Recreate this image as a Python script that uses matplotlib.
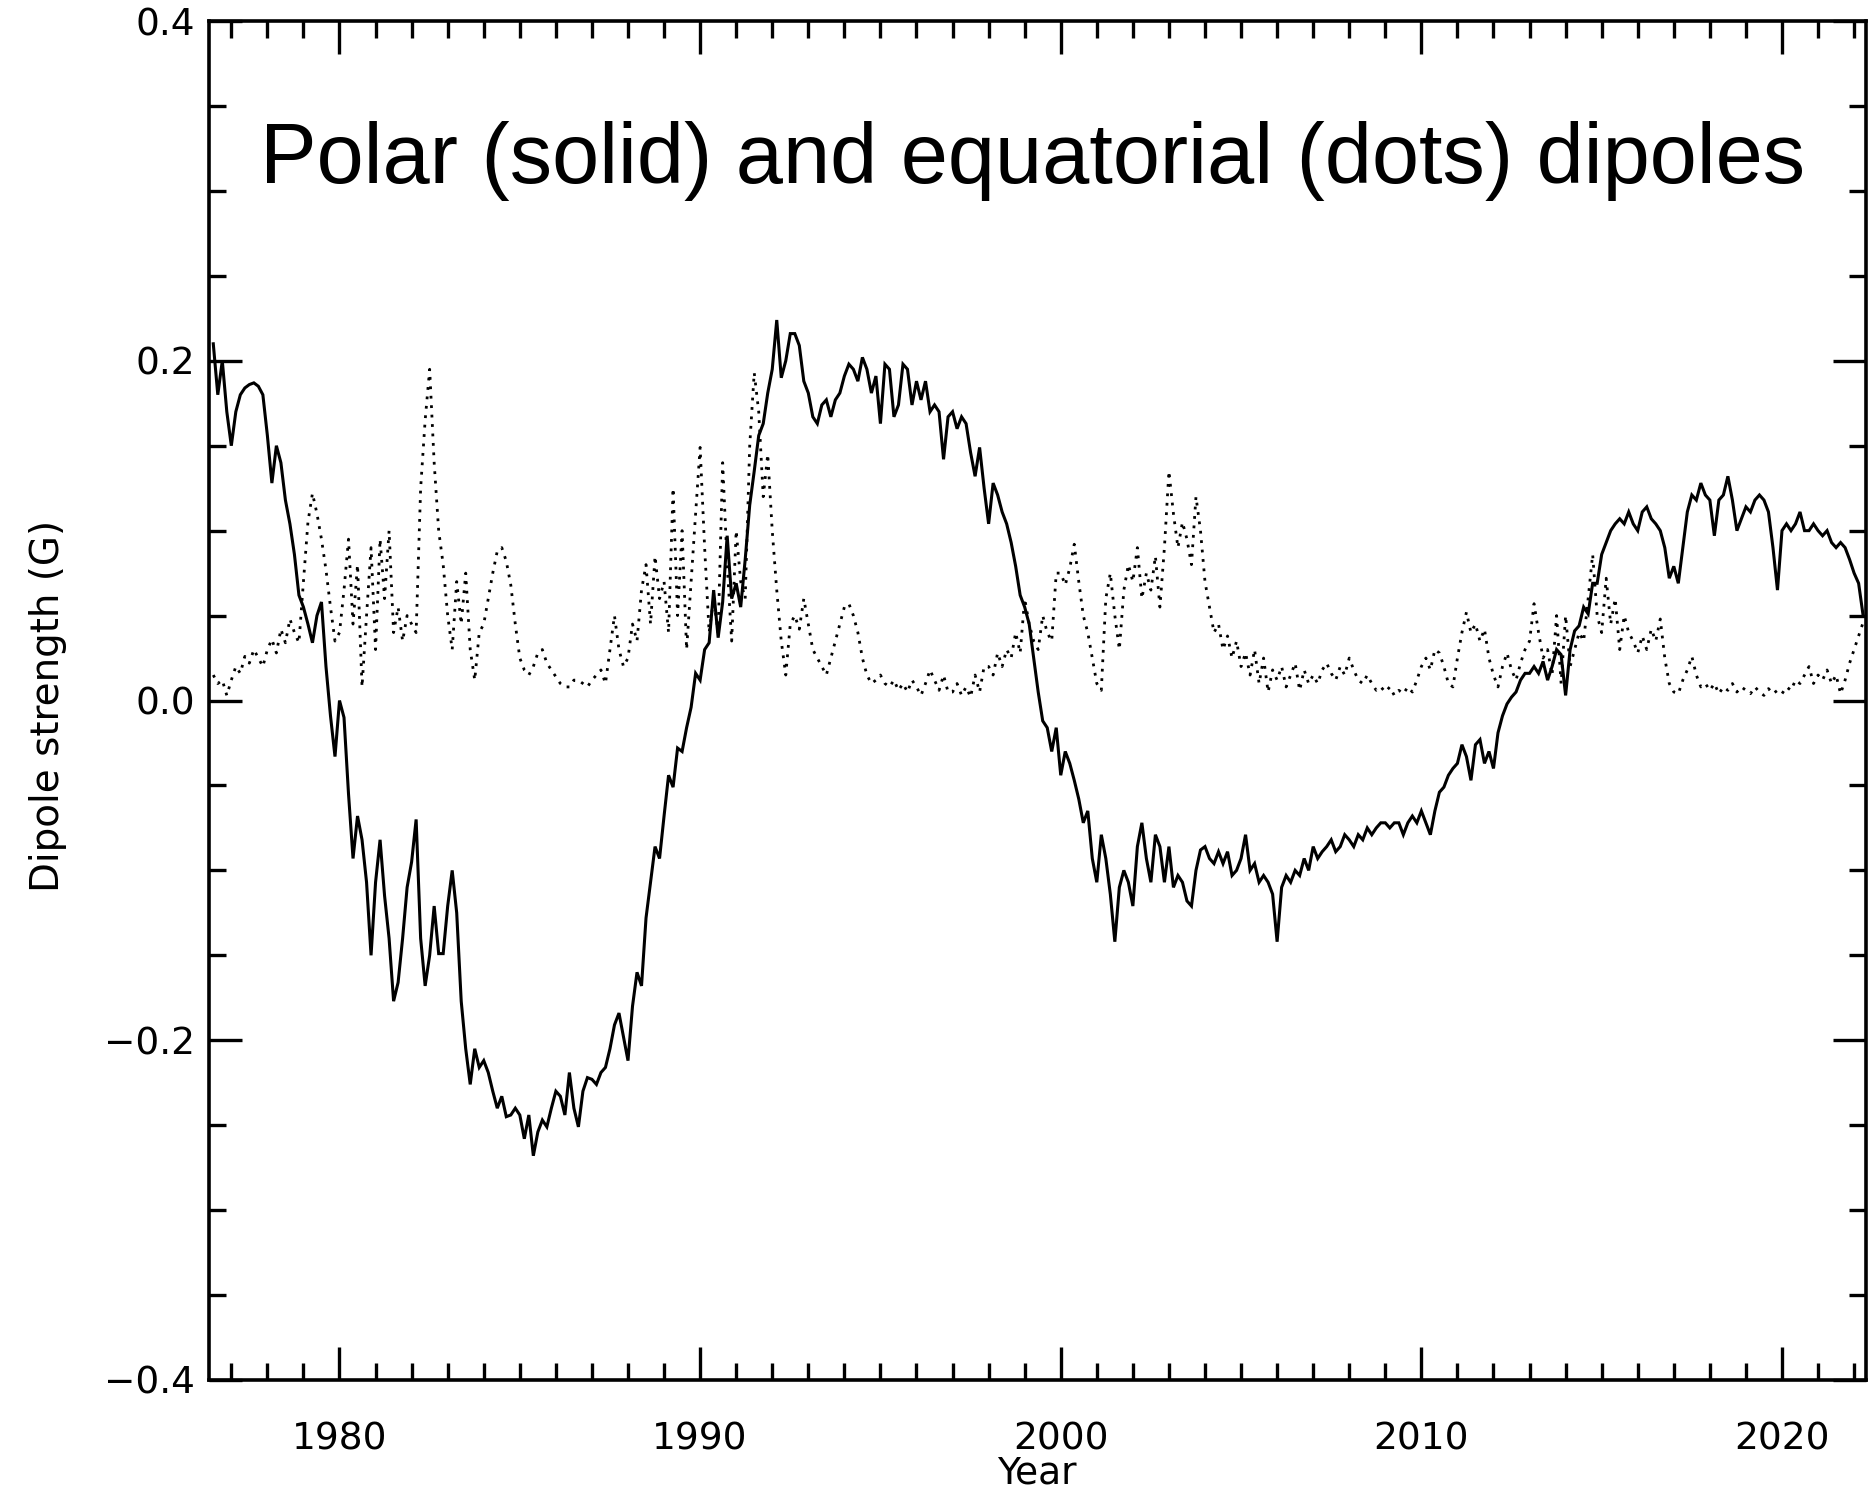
import numpy as np
import matplotlib
matplotlib.use("Agg")
import matplotlib.pyplot as plt
from matplotlib.ticker import MultipleLocator

# sampling of the series: every 1/8 year, starting mid 1976
start_year = 1976.5
step = 1.0 / 8

# polar dipole (G), one line per year
polar = [
    0.210, 0.180, 0.200, 0.170,                                   # 1976.5
    0.150, 0.170, 0.180, 0.184, 0.186, 0.187, 0.185, 0.180,       # 1977
    0.156, 0.128, 0.150, 0.140, 0.118, 0.104, 0.086, 0.062,       # 1978
    0.055, 0.045, 0.034, 0.050, 0.058, 0.020, -0.009, -0.033,     # 1979
    0.000, -0.010, -0.055, -0.093, -0.068, -0.082, -0.107, -0.150,  # 1980
    -0.107, -0.082, -0.115, -0.140, -0.177, -0.166, -0.140, -0.110,  # 1981
    -0.095, -0.070, -0.140, -0.168, -0.150, -0.121, -0.149, -0.149,  # 1982
    -0.121, -0.100, -0.125, -0.177, -0.205, -0.226, -0.205, -0.216,  # 1983
    -0.212, -0.219, -0.230, -0.240, -0.233, -0.245, -0.244, -0.240,  # 1984
    -0.244, -0.258, -0.244, -0.268, -0.254, -0.247, -0.251, -0.240,  # 1985
    -0.230, -0.233, -0.244, -0.219, -0.240, -0.251, -0.230, -0.222,  # 1986
    -0.223, -0.226, -0.219, -0.216, -0.205, -0.191, -0.184, -0.198,  # 1987
    -0.212, -0.180, -0.160, -0.168, -0.128, -0.107, -0.086, -0.093,  # 1988
    -0.068, -0.044, -0.051, -0.028, -0.030, -0.016, -0.004, 0.016,   # 1989
    0.012, 0.030, 0.034, 0.065, 0.037, 0.058, 0.097, 0.060,       # 1990
    0.069, 0.055, 0.083, 0.115, 0.135, 0.156, 0.163, 0.181,       # 1991
    0.195, 0.224, 0.190, 0.200, 0.216, 0.216, 0.209, 0.188,       # 1992
    0.181, 0.167, 0.163, 0.174, 0.177, 0.167, 0.177, 0.181,       # 1993
    0.191, 0.198, 0.195, 0.188, 0.202, 0.195, 0.181, 0.191,       # 1994
    0.163, 0.198, 0.195, 0.167, 0.174, 0.198, 0.195, 0.174,       # 1995
    0.188, 0.177, 0.188, 0.170, 0.174, 0.170, 0.142, 0.167,       # 1996
    0.170, 0.160, 0.167, 0.163, 0.146, 0.132, 0.149, 0.125,       # 1997
    0.104, 0.128, 0.121, 0.111, 0.104, 0.093, 0.079, 0.062,       # 1998
    0.055, 0.045, 0.025, 0.005, -0.012, -0.016, -0.030, -0.016,   # 1999
    -0.044, -0.030, -0.037, -0.047, -0.058, -0.072, -0.065, -0.093,  # 2000
    -0.107, -0.079, -0.093, -0.114, -0.142, -0.110, -0.100, -0.107,  # 2001
    -0.121, -0.086, -0.072, -0.093, -0.107, -0.079, -0.086, -0.107,  # 2002
    -0.086, -0.110, -0.103, -0.107, -0.118, -0.121, -0.100, -0.088,  # 2003
    -0.086, -0.093, -0.096, -0.089, -0.096, -0.089, -0.103, -0.100,  # 2004
    -0.093, -0.079, -0.100, -0.096, -0.107, -0.103, -0.107, -0.114,  # 2005
    -0.142, -0.110, -0.103, -0.107, -0.100, -0.103, -0.093, -0.100,  # 2006
    -0.086, -0.093, -0.089, -0.086, -0.082, -0.089, -0.086, -0.079,  # 2007
    -0.082, -0.086, -0.079, -0.082, -0.075, -0.079, -0.075, -0.072,  # 2008
    -0.072, -0.075, -0.072, -0.072, -0.079, -0.072, -0.068, -0.072,  # 2009
    -0.065, -0.072, -0.079, -0.065, -0.054, -0.051, -0.044, -0.040,  # 2010
    -0.037, -0.026, -0.033, -0.047, -0.026, -0.023, -0.037, -0.030,  # 2011
    -0.040, -0.019, -0.009, -0.002, 0.002, 0.005, 0.012, 0.016,   # 2012
    0.016, 0.020, 0.016, 0.023, 0.012, 0.020, 0.030, 0.027,       # 2013
    0.003, 0.030, 0.041, 0.044, 0.055, 0.051, 0.069, 0.069,       # 2014
    0.086, 0.093, 0.100, 0.104, 0.107, 0.104, 0.111, 0.104,       # 2015
    0.100, 0.111, 0.114, 0.107, 0.104, 0.100, 0.090, 0.072,       # 2016
    0.079, 0.069, 0.090, 0.111, 0.121, 0.118, 0.128, 0.121,       # 2017
    0.118, 0.097, 0.118, 0.121, 0.132, 0.118, 0.100, 0.107,       # 2018
    0.114, 0.111, 0.118, 0.121, 0.118, 0.111, 0.090, 0.065,       # 2019
    0.100, 0.104, 0.100, 0.104, 0.111, 0.100, 0.100, 0.104,       # 2020
    0.100, 0.097, 0.100, 0.093, 0.090, 0.093, 0.090, 0.083,       # 2021
    0.075, 0.069, 0.050,                                          # 2022
]

# equatorial dipole (G)
equatorial = [
    0.015, 0.010, 0.012, 0.003,                                   # 1976.5
    0.012, 0.020, 0.016, 0.026, 0.022, 0.030, 0.025, 0.020,       # 1977
    0.030, 0.036, 0.028, 0.042, 0.034, 0.048, 0.040, 0.034,       # 1978
    0.070, 0.105, 0.122, 0.110, 0.095, 0.077, 0.055, 0.035,       # 1979
    0.040, 0.065, 0.095, 0.045, 0.080, 0.008, 0.050, 0.090,       # 1980
    0.030, 0.095, 0.060, 0.100, 0.040, 0.055, 0.035, 0.050,       # 1981
    0.045, 0.040, 0.125, 0.165, 0.195, 0.140, 0.100, 0.080,       # 1982
    0.050, 0.030, 0.070, 0.045, 0.075, 0.030, 0.012, 0.040,       # 1983
    0.045, 0.060, 0.075, 0.088, 0.090, 0.082, 0.068, 0.045,       # 1984
    0.025, 0.018, 0.015, 0.020, 0.028, 0.030, 0.022, 0.018,       # 1985
    0.014, 0.010, 0.008, 0.008, 0.012, 0.012, 0.010, 0.008,       # 1986
    0.012, 0.015, 0.018, 0.010, 0.030, 0.050, 0.030, 0.020,       # 1987
    0.025, 0.045, 0.035, 0.065, 0.080, 0.045, 0.085, 0.060,       # 1988
    0.070, 0.040, 0.125, 0.050, 0.100, 0.030, 0.070, 0.110,       # 1989
    0.149, 0.090, 0.040, 0.060, 0.040, 0.140, 0.080, 0.035,       # 1990
    0.100, 0.070, 0.060, 0.150, 0.193, 0.170, 0.120, 0.145,       # 1991
    0.100, 0.065, 0.035, 0.015, 0.045, 0.050, 0.042, 0.060,       # 1992
    0.045, 0.030, 0.025, 0.020, 0.015, 0.025, 0.035, 0.045,       # 1993
    0.055, 0.057, 0.050, 0.040, 0.025, 0.015, 0.010, 0.012,       # 1994
    0.015, 0.010, 0.008, 0.012, 0.006, 0.010, 0.005, 0.012,       # 1995
    0.008, 0.003, 0.010, 0.018, 0.012, 0.006, 0.015, 0.005,       # 1996
    0.005, 0.010, 0.003, 0.008, 0.002, 0.015, 0.005, 0.020,       # 1997
    0.020, 0.015, 0.028, 0.020, 0.030, 0.025, 0.040, 0.028,       # 1998
    0.060, 0.045, 0.035, 0.030, 0.050, 0.040, 0.035, 0.075,       # 1999
    0.075, 0.068, 0.078, 0.092, 0.070, 0.050, 0.040, 0.025,       # 2000
    0.010, 0.006, 0.060, 0.075, 0.050, 0.030, 0.065, 0.080,       # 2001
    0.070, 0.090, 0.060, 0.075, 0.065, 0.085, 0.055, 0.090,       # 2002
    0.135, 0.110, 0.090, 0.105, 0.095, 0.080, 0.120, 0.100,       # 2003
    0.070, 0.055, 0.040, 0.045, 0.030, 0.038, 0.025, 0.035,       # 2004
    0.020, 0.028, 0.015, 0.030, 0.010, 0.025, 0.005, 0.018,       # 2005
    0.012, 0.020, 0.008, 0.015, 0.022, 0.006, 0.018, 0.010,       # 2006
    0.015, 0.010, 0.018, 0.022, 0.016, 0.012, 0.020, 0.015,       # 2007
    0.025, 0.018, 0.012, 0.010, 0.015, 0.010, 0.006, 0.008,       # 2008
    0.005, 0.008, 0.003, 0.006, 0.004, 0.008, 0.005, 0.012,       # 2009
    0.020, 0.025, 0.018, 0.030, 0.028, 0.020, 0.010, 0.008,       # 2010
    0.025, 0.040, 0.052, 0.040, 0.045, 0.035, 0.042, 0.025,       # 2011
    0.015, 0.008, 0.020, 0.028, 0.018, 0.012, 0.022, 0.030,       # 2012
    0.035, 0.057, 0.040, 0.025, 0.030, 0.015, 0.050, 0.010,       # 2013
    0.050, 0.020, 0.030, 0.040, 0.035, 0.060, 0.086, 0.050,       # 2014
    0.040, 0.072, 0.045, 0.060, 0.030, 0.050, 0.040, 0.035,       # 2015
    0.028, 0.038, 0.030, 0.042, 0.035, 0.048, 0.025, 0.010,       # 2016
    0.005, 0.004, 0.012, 0.018, 0.026, 0.015, 0.008, 0.010,       # 2017
    0.006, 0.010, 0.004, 0.008, 0.006, 0.010, 0.005, 0.008,       # 2018
    0.006, 0.004, 0.008, 0.005, 0.003, 0.007, 0.004, 0.006,       # 2019
    0.004, 0.008, 0.006, 0.012, 0.010, 0.015, 0.020, 0.010,       # 2020
    0.015, 0.012, 0.018, 0.010, 0.015, 0.004, 0.012, 0.022,       # 2021
    0.030, 0.038, 0.046,                                          # 2022
]

years = start_year + step * np.arange(len(polar))

title = "Polar (solid) and equatorial (dots) dipoles"

fig = plt.figure(figsize=(18.69, 14.93), dpi=100)
ax = fig.add_axes([0.1118, 0.0757, 0.8866, 0.9102])

ax.plot(years, polar, color="black", lw=2.2, solid_joinstyle="miter")
ax.plot(years, equatorial, color="black", lw=2.0, linestyle=(0, (1, 2.4)))

ax.set_xlim(1976.38, 2022.33)
ax.set_ylim(-0.4, 0.4)

ax.xaxis.set_major_locator(MultipleLocator(10))
ax.xaxis.set_minor_locator(MultipleLocator(1))
ax.yaxis.set_major_locator(MultipleLocator(0.2))
ax.yaxis.set_minor_locator(MultipleLocator(0.05))
ax.tick_params(which="both", direction="in", top=True, right=True,
               width=2.4, colors="black", labelsize=27)
ax.tick_params(which="major", length=24)
ax.tick_params(which="minor", length=12)
ax.tick_params(axis="x", which="major", pad=30)
ax.tick_params(axis="y", which="major", pad=10)
for s in ax.spines.values():
    s.set_linewidth(2.6)

ax.text(0.0308, 0.8808, title, transform=ax.transAxes, ha="left",
        va="baseline", fontsize=61, family="Liberation Sans")

fig.text(48 / 1869, 1 - 706 / 1493, "Dipole strength (G)", rotation=90,
         ha="center", va="center", fontsize=28)
fig.text(1037 / 1869, 2 / 1493, "Year", ha="center", va="bottom",
         fontsize=27)

fig.savefig("out.png", dpi=100)
